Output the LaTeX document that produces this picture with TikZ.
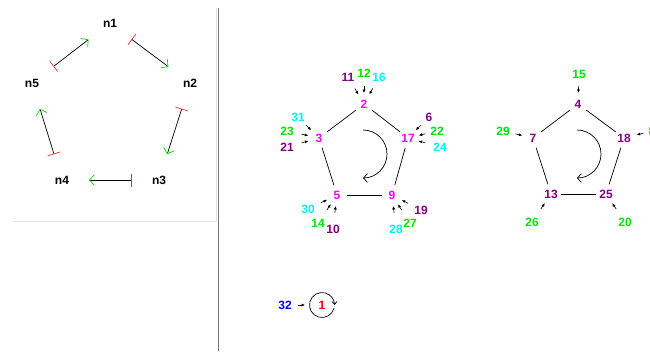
\documentclass[tikz,border=0pt]{standalone}
\usepackage{fontspec}
\setmainfont{Liberation Sans}
\usetikzlibrary{arrows.meta, calc}
\definecolor{ringmagenta}{RGB}{255,0,255}
\definecolor{ringpurple}{RGB}{128,0,128}
\definecolor{feedgreen}{RGB}{0,230,0}
\definecolor{feedcyan}{RGB}{0,240,255}
\definecolor{feedblue}{RGB}{0,0,255}
\definecolor{loopred}{RGB}{255,0,0}
\definecolor{tipgreen}{RGB}{0,220,0}
\definecolor{barred}{RGB}{255,40,40}
\definecolor{panelsoft}{RGB}{225,225,225}
\definecolor{paneldark}{RGB}{120,120,120}
\tikzset{
  numfont/.style={font=\bfseries\fontsize{12}{14}\selectfont},
  netlabel/.style={numfont, inner sep=0pt},
  ringnode/.style={numfont, circle, minimum size=20pt, inner sep=0pt},
  feedlabel/.style={numfont, inner sep=0pt},
  ringedge/.style={draw=black, line width=0.7pt},
  feedarrow/.style={-{Latex[length=3.5pt, width=3pt]}, line width=0.6pt},
  netarrow/.style={
    {Bar[color=barred, width=13pt]}-{Straight Barb[color=tipgreen, length=5pt, width=11pt]},
    line width=0.7pt, shorten <=27pt, shorten >=27pt
  },
  turnarrow/.style={-{Straight Barb[length=4pt, width=9pt]}, line width=0.7pt},
  looparrow/.style={-{Straight Barb[length=3pt, width=5pt]}, line width=0.7pt}
}
\begin{document}
\begin{tikzpicture}[x=1pt, y=1pt]
  \useasboundingbox (0,0) rectangle (650,-351);
  \clip (0,0) rectangle (650,-351);

  % left panel
  \draw[panelsoft, line width=1pt] (13,-221) -- (216,-221) -- (216,-8);
  \draw[paneldark, line width=1pt] (218,-8) -- (218,-351);

  \node[netlabel] (n1) at (110,-23) {n1};
  \node[netlabel] (n2) at (190,-83) {n2};
  \node[netlabel] (n3) at (159,-180) {n3};
  \node[netlabel] (n4) at (62,-180) {n4};
  \node[netlabel] (n5) at (32,-83) {n5};

  \draw[netarrow] (n1.center) -- (n2.center);
  \draw[netarrow] (n2.center) -- (n3.center);
  \draw[netarrow] (n3.center) -- (n4.center);
  \draw[netarrow] (n4.center) -- (n5.center);
  \draw[netarrow] (n5.center) -- (n1.center);

  % first ring
  \node[ringnode, text=ringmagenta] (g2) at (364,-104) {2};
  \node[ringnode, text=ringmagenta] (g3) at (319,-138) {3};
  \node[ringnode, text=ringmagenta] (g17) at (408,-138) {17};
  \node[ringnode, text=ringmagenta] (g5) at (337,-195) {5};
  \node[ringnode, text=ringmagenta] (g9) at (392,-195) {9};

  \draw[ringedge] (g2) -- (g3);
  \draw[ringedge] (g2) -- (g17);
  \draw[ringedge] (g3) -- (g5);
  \draw[ringedge] (g17) -- (g9);
  \draw[ringedge] (g5) -- (g9);

  \coordinate (t1) at (363,-154);
  \draw[turnarrow] ($(t1)+(0,24)$) arc[start angle=90, end angle=-90, radius=24];

  \node[feedlabel, text=ringpurple] (f11) at (348,-77) {11};
  \node[feedlabel, text=feedgreen] (f12) at (364,-73) {12};
  \node[feedlabel, text=feedcyan] (f16) at (379,-77) {16};
  \node[feedlabel, text=feedcyan] (f31) at (298,-117) {31};
  \node[feedlabel, text=feedgreen] (f23) at (287,-131) {23};
  \node[feedlabel, text=ringpurple] (f21) at (287,-147) {21};
  \node[feedlabel, text=ringpurple] (f6) at (429,-117) {6};
  \node[feedlabel, text=feedgreen] (f22) at (437,-131) {22};
  \node[feedlabel, text=feedcyan] (f24) at (440,-147) {24};
  \node[feedlabel, text=feedcyan] (f30) at (308,-209) {30};
  \node[feedlabel, text=feedgreen] (f14) at (318,-223) {14};
  \node[feedlabel, text=ringpurple] (f10) at (333,-229) {10};
  \node[feedlabel, text=ringpurple] (f19) at (421,-210) {19};
  \node[feedlabel, text=feedgreen] (f27) at (410,-223) {27};
  \node[feedlabel, text=feedcyan] (f28) at (396,-229) {28};

  \draw[feedarrow] ($(g2)!18pt!(f11)$) -- ($(g2)!11pt!(f11)$);
  \draw[feedarrow] ($(g2)!18pt!(f12)$) -- ($(g2)!11pt!(f12)$);
  \draw[feedarrow] ($(g2)!18pt!(f16)$) -- ($(g2)!11pt!(f16)$);
  \draw[feedarrow] ($(g3)!18pt!(f31)$) -- ($(g3)!11pt!(f31)$);
  \draw[feedarrow] ($(g3)!18pt!(f23)$) -- ($(g3)!11pt!(f23)$);
  \draw[feedarrow] ($(g3)!18pt!(f21)$) -- ($(g3)!11pt!(f21)$);
  \draw[feedarrow] ($(g17)!18pt!(f6)$) -- ($(g17)!11pt!(f6)$);
  \draw[feedarrow] ($(g17)!18pt!(f22)$) -- ($(g17)!11pt!(f22)$);
  \draw[feedarrow] ($(g17)!18pt!(f24)$) -- ($(g17)!11pt!(f24)$);
  \draw[feedarrow] ($(g5)!18pt!(f30)$) -- ($(g5)!11pt!(f30)$);
  \draw[feedarrow] ($(g5)!18pt!(f14)$) -- ($(g5)!11pt!(f14)$);
  \draw[feedarrow] ($(g5)!18pt!(f10)$) -- ($(g5)!11pt!(f10)$);
  \draw[feedarrow] ($(g9)!18pt!(f19)$) -- ($(g9)!11pt!(f19)$);
  \draw[feedarrow] ($(g9)!18pt!(f27)$) -- ($(g9)!11pt!(f27)$);
  \draw[feedarrow] ($(g9)!18pt!(f28)$) -- ($(g9)!11pt!(f28)$);

  % second ring
  \node[ringnode, text=ringpurple] (h4) at (578,-104) {4};
  \node[ringnode, text=ringpurple] (h7) at (533,-138) {7};
  \node[ringnode, text=ringpurple] (h18) at (624,-138) {18};
  \node[ringnode, text=ringpurple] (h13) at (551,-194) {13};
  \node[ringnode, text=ringpurple] (h25) at (606,-194) {25};

  \draw[ringedge] (h4) -- (h7);
  \draw[ringedge] (h4) -- (h18);
  \draw[ringedge] (h7) -- (h13);
  \draw[ringedge] (h18) -- (h25);
  \draw[ringedge] (h13) -- (h25);

  \coordinate (t2) at (577,-154);
  \draw[turnarrow] ($(t2)+(0,24)$) arc[start angle=90, end angle=-90, radius=24];

  \node[feedlabel, text=feedgreen] (f15) at (579,-74) {15};
  \node[feedlabel, text=feedgreen] (f29) at (503,-131) {29};
  \node[feedlabel, text=feedgreen] (f8) at (652,-131) {8};
  \node[feedlabel, text=feedgreen] (f26) at (532,-222) {26};
  \node[feedlabel, text=feedgreen] (f20) at (625,-222) {20};

  \draw[feedarrow] ($(h4)!18pt!(f15)$) -- ($(h4)!11pt!(f15)$);
  \draw[feedarrow] ($(h7)!18pt!(f29)$) -- ($(h7)!11pt!(f29)$);
  \draw[feedarrow] ($(h18)!20pt!(f8)$) -- ($(h18)!13pt!(f8)$);
  \draw[feedarrow] ($(h13)!18pt!(f26)$) -- ($(h13)!11pt!(f26)$);
  \draw[feedarrow] ($(h25)!18pt!(f20)$) -- ($(h25)!11pt!(f20)$);

  % single node with loop
  \node[ringnode, text=loopred] (c1) at (322,-305) {1};
  \draw[looparrow] ($(c1)+(345:12.5)$) arc[start angle=345, end angle=0, radius=12.5];

  \node[feedlabel, text=feedblue] (f32) at (285,-305) {32};
  \draw[feedarrow] ($(c1)!24pt!(f32)$) -- ($(c1)!17pt!(f32)$);
\end{tikzpicture}
\end{document}
